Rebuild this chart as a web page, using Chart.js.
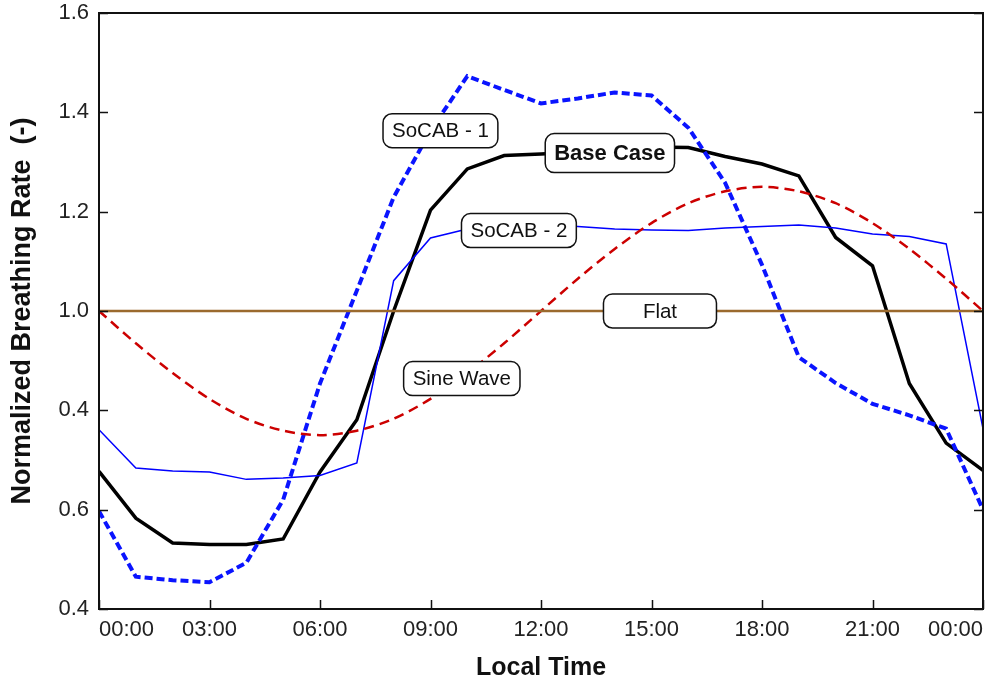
<!DOCTYPE html>
<html>
<head>
<meta charset="utf-8">
<script src="https://cdn.jsdelivr.net/npm/chart.js@4/dist/chart.umd.min.js"></script>
<style>
html,body{margin:0;padding:0;background:#fff;}
#wrap{width:994px;height:686px;position:relative;}
</style>
</head>
<body>
<div id="wrap"><canvas id="c" width="994" height="686"></canvas></div>
<script>
// ---- data ----
const hours = [0,1,2,3,4,5,6,7,8,9,10,11,12,13,14,15,16,17,18,19,20,21,22,23,24];
const baseCase = [0.677,0.583,0.533,0.530,0.530,0.541,0.676,0.781,1.000,1.203,1.286,1.313,1.316,1.320,1.325,1.330,1.329,1.311,1.296,1.272,1.148,1.091,0.854,0.734,0.679];
const socab1 = [0.597,0.465,0.458,0.454,0.493,0.620,0.854,1.041,1.229,1.363,1.473,1.445,1.418,1.428,1.440,1.434,1.369,1.258,1.093,0.907,0.855,0.813,0.790,0.763,0.600];
const socab2 = [0.761,0.684,0.678,0.676,0.661,0.664,0.669,0.694,1.061,1.147,1.165,1.175,1.175,1.170,1.165,1.163,1.162,1.167,1.170,1.173,1.167,1.155,1.150,1.135,0.763];
const sineWave = [1.000,0.935,0.875,0.823,0.783,0.759,0.750,0.759,0.783,0.823,0.875,0.935,1.000,1.065,1.125,1.177,1.217,1.241,1.250,1.241,1.217,1.177,1.125,1.065,1.000];
const flat = [1,1,1,1,1,1,1,1,1,1,1,1,1,1,1,1,1,1,1,1,1,1,1,1,1];

const xTickValues = [0,3,6,9,12,15,18,21,24];
const xTickLabels = ['00:00','03:00','06:00','09:00','12:00','15:00','18:00','21:00','00:00'];
const yTickValues = [0.4,0.6,0.8,1.0,1.2,1.4,1.6];
const yTickLabels = ['0.4','0.6','0.4','1.0','1.2','1.4','1.6'];

const labelNames  = ['SoCAB - 1','Base Case','SoCAB - 2','Flat','Sine Wave'];
const labelHours  = [9.27, 13.87, 11.40, 15.23, 9.85];
const labelValues = [1.363, 1.318, 1.162, 1.000, 0.864];
const labelBold   = [false, true, false, false, false];

function pts(arr){ return hours.map((h,i)=>({x:h,y:arr[i]})); }

const frameTicks = {
  id:'frameTicks',
  afterDatasetsDraw(chart){
    const ctx = chart.ctx, a = chart.chartArea;
    const xs = chart.scales.x, ys = chart.scales.y;
    ctx.save();
    ctx.strokeStyle = '#111';
    ctx.lineWidth = 2;
    ctx.strokeRect(a.left, a.top, a.right - a.left, a.bottom - a.top);
    ctx.lineWidth = 1.5;
    ctx.beginPath();
    xTickValues.forEach(v=>{
      const px = Math.round(xs.getPixelForValue(v))+0.5;
      ctx.moveTo(px, a.bottom); ctx.lineTo(px, a.bottom - 9);
    });
    yTickValues.forEach(v=>{
      const py = Math.round(ys.getPixelForValue(v))+0.5;
      ctx.moveTo(a.left, py); ctx.lineTo(a.left + 9, py);
      ctx.moveTo(a.right, py); ctx.lineTo(a.right - 9, py);
    });
    ctx.stroke();
    // labels
    labelNames.forEach((name,i)=>{
      const cx = xs.getPixelForValue(labelHours[i]);
      const cy = ys.getPixelForValue(labelValues[i]);
      const bold = labelBold[i];
      ctx.font = (bold ? 'bold 22px' : '20.5px') + ' "Liberation Sans", Arial, sans-serif';
      const tw = ctx.measureText(name).width;
      const w = Math.max(tw + 18, 113);
      const h = bold ? 39 : 34;
      const x0 = cx - w/2, y0 = cy - h/2, r = 9;
      ctx.beginPath();
      ctx.moveTo(x0 + r, y0);
      ctx.lineTo(x0 + w - r, y0);
      ctx.arcTo(x0 + w, y0, x0 + w, y0 + r, r);
      ctx.lineTo(x0 + w, y0 + h - r);
      ctx.arcTo(x0 + w, y0 + h, x0 + w - r, y0 + h, r);
      ctx.lineTo(x0 + r, y0 + h);
      ctx.arcTo(x0, y0 + h, x0, y0 + h - r, r);
      ctx.lineTo(x0, y0 + r);
      ctx.arcTo(x0, y0, x0 + r, y0, r);
      ctx.closePath();
      ctx.fillStyle = '#fff';
      ctx.fill();
      ctx.lineWidth = 1.5;
      ctx.strokeStyle = '#111';
      ctx.stroke();
      ctx.fillStyle = '#111';
      ctx.textAlign = 'center';
      ctx.textBaseline = 'middle';
      ctx.fillText(name, cx, cy + 1);
    });
    ctx.restore();
  }
};

function zeroPad(s){ s.paddingLeft = 0; s.paddingRight = 0; s.paddingTop = 0; s.paddingBottom = 0; }

new Chart(document.getElementById('c'), {
  type:'line',
  data:{
    datasets:[
      {label:'Flat', data:pts(flat), borderColor:'#9b6a2e', borderWidth:2.5, pointRadius:0, fill:false, tension:0},
      {label:'Sine Wave', data:pts(sineWave), borderColor:'#cc0000', borderWidth:2.5, borderDash:[10,6], pointRadius:0, fill:false, tension:0.3},
      {label:'SoCAB - 2', data:pts(socab2), borderColor:'#0000ff', borderWidth:1.5, pointRadius:0, fill:false, tension:0},
      {label:'SoCAB - 1', data:pts(socab1), borderColor:'#0a14ff', borderWidth:4, borderDash:[8,4], pointRadius:0, fill:false, tension:0},
      {label:'Base Case', data:pts(baseCase), borderColor:'#000', borderWidth:3.5, pointRadius:0, fill:false, tension:0}
    ]
  },
  options:{
    responsive:false,
    animation:false,
    events:[],
    layout:{padding:{top:13,right:11,left:0,bottom:0}},
    plugins:{legend:{display:false}, tooltip:{enabled:false}},
    scales:{
      x:{
        type:'linear', min:0, max:24,
        afterBuildTicks(s){ s.ticks = xTickValues.map(v=>({value:v})); },
        afterFit(s){ s.height = 77; zeroPad(s); },
        grid:{display:false, drawTicks:false},
        border:{display:false},
        ticks:{
          autoSkip:false, maxRotation:0, padding:8, color:'#222', align:'inner',
          font:{family:'"Liberation Sans", Arial, sans-serif', size:22},
          callback:(v)=>{ const i = xTickValues.indexOf(v); return i>=0 ? xTickLabels[i] : ''; }
        },
        title:{display:true, text:'Local Time', color:'#111',
          font:{family:'"Liberation Sans", Arial, sans-serif', size:25, weight:'bold'},
          padding:{top:0,bottom:3}}
      },
      y:{
        type:'linear', min:0.4, max:1.6,
        afterBuildTicks(s){ s.ticks = yTickValues.map(v=>({value:v})); },
        afterFit(s){ s.width = 99; zeroPad(s); },
        grid:{display:false, drawTicks:false},
        border:{display:false},
        ticks:{
          autoSkip:false, padding:10, color:'#222', align:'inner',
          font:{family:'"Liberation Sans", Arial, sans-serif', size:22},
          callback:(v)=>{ const i = yTickValues.findIndex(t=>Math.abs(t-v)<1e-6); return i>=0 ? yTickLabels[i] : ''; }
        },
        title:{display:true, text:'Normalized Breathing Rate  (-)', color:'#111',
          font:{family:'"Liberation Sans", Arial, sans-serif', size:27, weight:'bold'},
          padding:{top:6,bottom:0}}
      }
    }
  },
  plugins:[frameTicks]
});
</script>
</body>
</html>
